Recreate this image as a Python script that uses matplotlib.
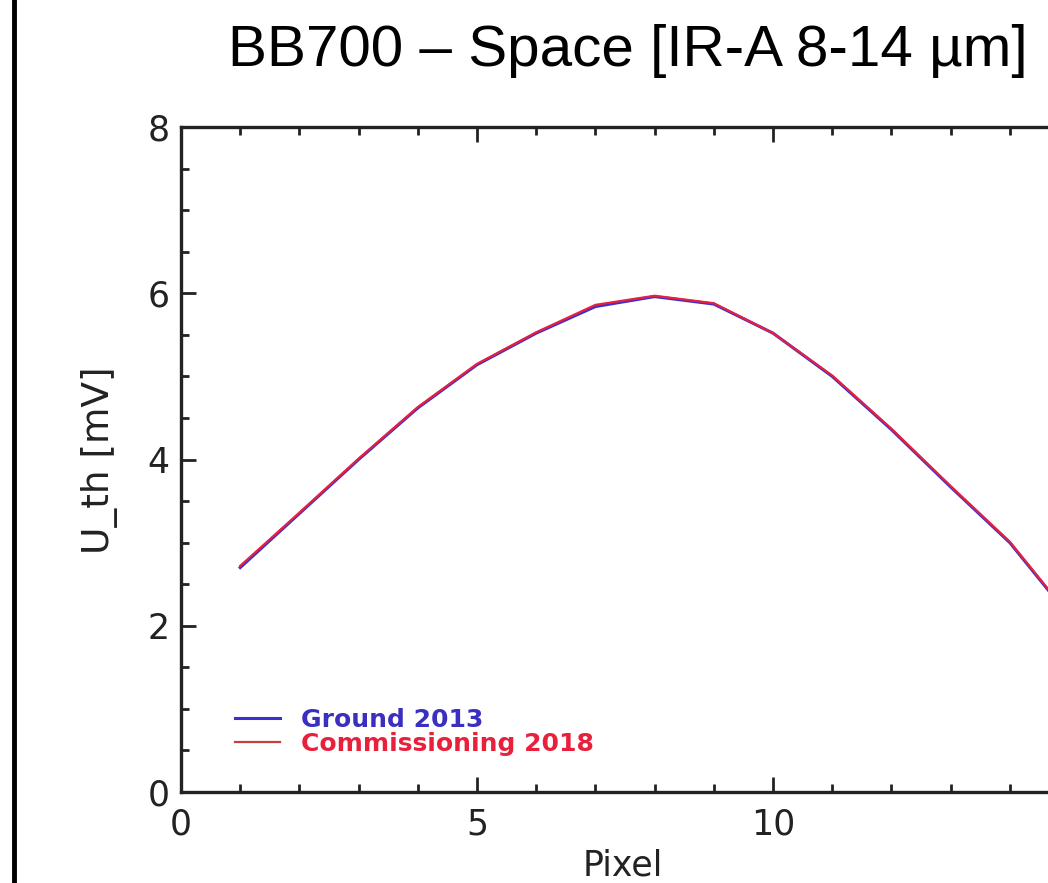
import matplotlib
matplotlib.use('Agg')
import matplotlib.pyplot as plt
from matplotlib.ticker import MultipleLocator

plt.rcParams['font.family'] = ['DejaVu Sans']

# values
pixel = [1, 2, 3, 4, 5, 6, 7, 8, 9, 10, 11, 12, 13, 14, 15]
ground_2013 = [2.70, 3.35, 4.00, 4.62, 5.14, 5.52, 5.84, 5.96, 5.87, 5.52, 5.00, 4.36, 3.67, 3.00, 2.12]
comm_2018 = [2.72, 3.36, 4.01, 4.63, 5.15, 5.53, 5.86, 5.97, 5.88, 5.52, 5.01, 4.37, 3.68, 3.01, 2.13]
xticks = [0, 5, 10, 15]
xtick_labels = ['0', '5', '10', '']

W, H = 1048, 883
fig = plt.figure(figsize=(W / 100, H / 100), dpi=100)

# axes box in pixels: left 181, right 1069 (cut off), top 127, bottom 792
ax = fig.add_axes([181 / W, 1 - 792 / H, 888 / W, 665 / H])

ax.plot(pixel, ground_2013, color='#3a2fd0', lw=2.2, label='Ground 2013')
ax.plot(pixel, comm_2018, color='#e8203c', lw=1.6, label='Commissioning 2018')

ax.set_xlim(0, 15)
ax.set_ylim(0, 8)
ax.set_xticks(xticks, xtick_labels)
ax.xaxis.set_minor_locator(MultipleLocator(1))
ax.yaxis.set_major_locator(MultipleLocator(2))
ax.yaxis.set_minor_locator(MultipleLocator(0.5))
ax.tick_params(which='both', direction='in', top=True, right=True, width=2, color='#222222')
ax.tick_params(which='major', length=11, labelsize=25, pad=8, labelcolor='#222222')
ax.tick_params(which='minor', length=6)
ax.tick_params(axis='x', which='major', pad=11)
for s in ax.spines.values():
    s.set_linewidth(2.4)
    s.set_color('#222222')

leg = ax.legend(loc='lower left', bbox_to_anchor=(0.035, 0.02), frameon=False,
                handlelength=1.8, handletextpad=0.85, labelspacing=0.02,
                prop={'size': 18, 'weight': 'bold'}, labelcolor=['#3a2fc0', '#e8203c'])
leg.get_lines()[1].set_color('#c0403a')

fig.text(100 / W, 1 - 460 / H, 'U_th [mV]', rotation=90, ha='center', va='center',
         fontsize=27, color='#222222')
fig.text(623 / W, 1 - 865 / H, 'Pixel', ha='center', va='center', fontsize=25, color='#222222')

fig.text(628 / W, 1 - 51 / H, 'BB700 – Space [IR-A 8-14 µm]', ha='center', va='center',
         fontsize=42, family=['Liberation Sans', 'DejaVu Sans'])

# slide border on the left
fig.add_artist(plt.Line2D([14 / W, 14 / W], [0, 1], color='black', lw=3.5,
                          transform=fig.transFigure))

fig.savefig('out.png', dpi=100)
